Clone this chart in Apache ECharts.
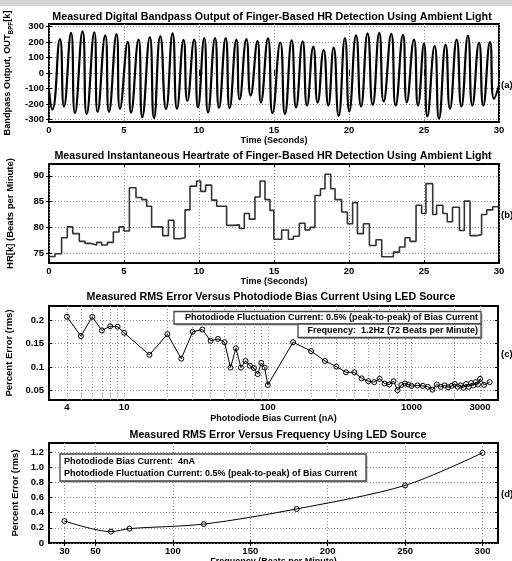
<!DOCTYPE html>
<html><head><meta charset="utf-8">
<script src="https://cdn.jsdelivr.net/npm/echarts@6/dist/echarts.min.js"></script>
<style>html,body{margin:0;padding:0;background:#fff}#c{width:512px;height:561px}</style>
</head><body><div id="c"></div>
<script>
// ---- (a) bandpass output: peaks/troughs ----
const aTimes = [0, 0.22, 0.73, 1.00, 1.47, 1.73, 2.24, 2.51, 3.02, 3.24, 3.75, 4.00, 4.50, 4.73, 5.25, 5.47, 5.97, 6.22, 6.72, 7.00,
  7.42, 7.80, 8.24, 8.53, 8.97, 9.22, 9.68, 9.93, 10.35, 10.60, 11.07, 11.33, 11.78, 12.04, 12.49, 12.71, 13.16, 13.44, 13.90, 14.13,
  14.60, 14.90, 15.42, 15.73, 16.18, 16.47, 16.91, 17.20, 17.62, 17.91, 18.31, 18.62, 18.98, 19.31, 19.73, 20.02, 20.47, 20.80, 21.24, 21.58,
  22.02, 22.31, 22.82, 23.11, 23.60, 23.85, 24.33, 24.60, 25.00, 25.22, 25.71, 26.00, 26.44, 26.73, 27.18, 27.49, 27.93, 28.22, 28.67, 28.95,
  29.40, 29.67, 30.00];
const aValues = [-110, -235, 218, -215, 258, -258, 267, -265, 262, -250, 242, -250, 250, -230, 200, -255, 215, -285, 230, -290,
  237, -232, 255, -230, 213, -180, 215, -220, 225, -255, 225, -225, 224, -226, 215, -170, 218, -145, 205, -190,
  222, -258, 196, -265, 210, -221, 204, -209, 170, -190, 148, -209, 163, -275, 225, -247, 242, -215, 255, -205,
  258, -183, 252, -209, 245, -188, 215, -209, 190, -279, 173, -294, 182, -230, 215, -215, 240, -209, 195, -209,
  198, -166, -80];
const aYTicks = [-300, -200, -100, 0, 100, 200, 300];

// ---- (b) instantaneous heart rate (step starts) ----
const hrTimes = [0, 0.4, 0.84, 1.22, 1.58, 2.02, 2.4, 2.78, 3.18, 3.51, 3.89, 4.29, 4.67, 5.0, 5.36, 5.8, 6.18, 6.51, 6.84, 7.58,
  7.96, 8.33, 8.73, 9.07, 9.4, 9.84, 10.11, 10.44, 10.84, 11.18, 11.84, 12.29, 12.69, 13.02, 13.36, 13.73, 14.07, 14.4, 14.73, 14.99,
  15.51, 15.96, 16.29, 16.69, 17.07, 17.4, 17.73, 18.1, 18.4, 18.78, 19.07, 19.51, 19.89, 20.24, 20.56, 20.96, 21.36, 21.8, 22.18, 22.96,
  23.36, 23.73, 24.07, 24.47, 24.84, 25.13, 25.58, 25.84, 26.26, 26.55, 26.9, 27.36, 27.69, 28.07, 28.47, 28.84, 29.18, 29.58, 30];
const hrValues = [74.35, 74.9, 78.0, 80.1, 78.8, 77.3, 76.9, 76.6, 77.1, 76.6, 77.1, 79.1, 80.1, 79.3, 87.7, 85.8, 85.4, 84.1, 80.1, 78.4,
  81.4, 77.8, 78.0, 83.4, 88.0, 89.0, 87.0, 88.2, 85.3, 84.1, 80.4, 80.5, 79.8, 82.7, 81.6, 85.9, 89.0, 85.4, 83.3, 77.7,
  79.5, 77.7, 78.3, 80.8, 79.5, 80.0, 86.2, 87.5, 90.3, 87.5, 85.4, 83.0, 80.7, 84.8, 78.8, 80.7, 76.5, 77.6, 74.3, 75.2,
  76.2, 78.0, 77.3, 84.3, 82.7, 88.5, 82.5, 84.3, 82.7, 81.1, 83.9, 79.4, 85.1, 78.4, 78.6, 82.5, 83.4, 84.0, 84.0];
const bYTicks = [75, 80, 85, 90];

// ---- (c) RMS error vs photodiode bias current ----
const cCurrent = [4, 5, 6, 7, 8, 9, 10, 15, 20, 25, 30, 35, 40, 45, 50, 55, 60, 65, 70, 75, 80, 85, 90, 95, 100,
  150, 200, 250, 300, 350, 400, 450, 500, 550, 600, 650, 700, 750, 800, 850, 900, 950, 1000,
  1100, 1200, 1300, 1400, 1500, 1600, 1700, 1800, 1900, 2000, 2100, 2200, 2300, 2400, 2500, 2600, 2700, 2800, 2900, 3000, 3200, 3500];
const cError = [0.207, 0.166, 0.207, 0.178, 0.187, 0.186, 0.173, 0.126, 0.170, 0.118, 0.175, 0.180, 0.156, 0.160, 0.153, 0.099, 0.140, 0.099, 0.113, 0.103, 0.098, 0.085, 0.109, 0.099, 0.062,
  0.153, 0.134, 0.113, 0.101, 0.089, 0.089, 0.076, 0.070, 0.068, 0.075, 0.065, 0.063, 0.070, 0.051, 0.062, 0.065, 0.063, 0.060,
  0.061, 0.060, 0.058, 0.052, 0.063, 0.058, 0.061, 0.057, 0.060, 0.064, 0.058, 0.061, 0.056, 0.064, 0.058, 0.066, 0.061, 0.068, 0.063, 0.075, 0.062, 0.068];
const cYTicks = [0.05, 0.1, 0.15, 0.2];
const cXLabels = [4, 10, 100, 1000, 3000];
const cXGrid = [4, 5, 6, 7, 8, 9, 10, 20, 30, 40, 50, 60, 70, 80, 90, 100, 200, 300, 400, 500, 600, 700, 800, 900, 1000, 2000, 3000];

// ---- (d) RMS error vs frequency ----
const dFreq = [30, 60, 72, 120, 180, 250, 300];
const dError = [0.29, 0.15, 0.19, 0.25, 0.45, 0.76, 1.19];
const dXTicks = [30, 50, 100, 150, 200, 250, 300];
const dYTicks = [0, 0.2, 0.4, 0.6, 0.8, 1.0, 1.2];

// ---- texts ----
const titles = [
  'Measured Digital Bandpass Output of Finger-Based HR Detection Using Ambient Light',
  'Measured Instantaneous Heartrate of Finger-Based HR Detection Using Ambient Light',
  'Measured RMS Error Versus Photodiode Bias Current Using LED Source',
  'Measured RMS Error Versus Frequency Using LED Source'
];
const panelTags = ['(a)', '(b)', '(c)', '(d)'];
const noteC = ['Photodiode Fluctuation Current: 0.5% (peak-to-peak) of Bias Current', 'Frequency:  1.2Hz (72 Beats per Minute)'];
const noteD = ['Photodiode Bias Current:  4nA', 'Photodiode Fluctuation Current: 0.5% (peak-to-peak) of Bias Current'];

const FONT = "'Liberation Sans', Arial, Helvetica, sans-serif";
const chart = echarts.init(document.getElementById('c'), null, {renderer: 'canvas'});

const dotted = {show: true, lineStyle: {color: '#8c8c8c', width: 1, type: [1, 2]}};
function tick(vals) { const t = {show: true, inside: true, length: 3, lineStyle: {color: '#000', width: 1}}; if (vals) t.customValues = vals; return t; }
function lbl(extra) { return Object.assign({color: '#000', fontFamily: FONT, fontWeight: 'bold', fontSize: 9.5}, extra || {}); }
const nameStyle = {color: '#000', fontFamily: FONT, fontWeight: 'bold', fontSize: 9};
function grid(top, height, width) { return {left: 49, top: top, width: width, height: height, show: true, borderColor: '#000', borderWidth: 2, backgroundColor: 'transparent', containLabel: false, outerBoundsMode: 'none'}; }
// mirrored tick-only axes (top / right), as in the original figure
function mirrorX(gi, min, max, vals, interval) {
  const a = {gridIndex: gi, type: 'value', position: 'top', min: min, max: max, axisLine: {show: false},
    axisTick: tick(vals), axisLabel: {show: false}, splitLine: {show: false}};
  if (interval) a.interval = interval;
  return a;
}
function mirrorY(gi, min, max, vals) {
  return {gridIndex: gi, type: 'value', position: 'right', min: min, max: max, axisLine: {show: false},
    axisTick: tick(vals), axisLabel: {show: false}, splitLine: {show: false}};
}

const zip = (xs, ys) => xs.map((x, i) => [x, ys[i]]);

const titleY = [17, 156, 297, 435];
const titleX = [272, 273, 271, 278];
const tagY = [85, 215, 354, 494];
const graphic = [{type: 'rect', shape: {x: 0, y: 0, width: 512, height: 6}, style: {fill: '#d6d6d6'}, z: 100}];
titles.forEach((t, i) => graphic.push({type: 'text', x: titleX[i], y: titleY[i], z: 100,
  style: {text: t, font: 'bold 10.7px ' + FONT, fill: '#000', align: 'center', verticalAlign: 'middle'}}));
panelTags.forEach((t, i) => graphic.push({type: 'text', x: 501, y: tagY[i], z: 100,
  style: {text: t, font: 'bold 9.5px ' + FONT, fill: '#000', align: 'left', verticalAlign: 'middle'}}));
// note boxes (c)
graphic.push({type: 'rect', shape: {x: 175.5, y: 313, width: 307, height: 12.5}, style: {fill: '#aaa'}, z: 99});
graphic.push({type: 'rect', shape: {x: 174, y: 311.5, width: 307, height: 12.5}, style: {fill: '#fff', stroke: '#444', lineWidth: 1.3}, z: 100});
graphic.push({type: 'rect', shape: {x: 299.5, y: 325.5, width: 183, height: 13.5}, style: {fill: '#aaa'}, z: 99});
graphic.push({type: 'rect', shape: {x: 298, y: 324, width: 183, height: 13.5}, style: {fill: '#fff', stroke: '#444', lineWidth: 1.3}, z: 100});
graphic.push({type: 'text', x: 478, y: 318, z: 101, style: {text: noteC[0], font: 'bold 9px ' + FONT, fill: '#000', align: 'right', verticalAlign: 'middle'}});
graphic.push({type: 'text', x: 478, y: 330.5, z: 101, style: {text: noteC[1], font: 'bold 9px ' + FONT, fill: '#000', align: 'right', verticalAlign: 'middle'}});
// note box (d)
graphic.push({type: 'rect', shape: {x: 61.5, y: 455.5, width: 306, height: 27}, style: {fill: '#aaa'}, z: 99});
graphic.push({type: 'rect', shape: {x: 60, y: 454, width: 306, height: 27}, style: {fill: '#fff', stroke: '#444', lineWidth: 1.3}, z: 100});
graphic.push({type: 'text', x: 64, y: 462, z: 101, style: {text: noteD[0], font: 'bold 9px ' + FONT, fill: '#000', align: 'left', verticalAlign: 'middle'}});
graphic.push({type: 'text', x: 64, y: 473.5, z: 101, style: {text: noteD[1], font: 'bold 9px ' + FONT, fill: '#000', align: 'left', verticalAlign: 'middle'}});

const markerStyle = {color: 'rgba(255,255,255,0)', borderColor: '#000', borderWidth: 1};

const option = {
  animation: false,
  backgroundColor: '#fff',
  grid: [grid(24, 98, 450), grid(164, 99, 450), grid(306, 94, 449), grid(443, 100, 449)],
  xAxis: [
    {gridIndex: 0, type: 'value', min: 0, max: 30, interval: 5, axisLine: {show: false}, axisTick: tick(), splitLine: dotted,
      axisLabel: lbl({margin: 3}), name: 'Time (Seconds)', nameLocation: 'middle', nameGap: 14, nameTextStyle: nameStyle},
    {gridIndex: 1, type: 'value', min: 0, max: 30, interval: 5, axisLine: {show: false}, axisTick: tick(), splitLine: dotted,
      axisLabel: lbl({margin: 3}), name: 'Time (Seconds)', nameLocation: 'middle', nameGap: 13, nameTextStyle: nameStyle},
    {gridIndex: 2, type: 'log', logBase: 10, min: 3, max: 4000, axisLine: {show: false}, axisTick: {show: false}, splitLine: {show: false},
      axisLabel: {show: false}, name: 'Photodiode Bias Current (nA)', nameLocation: 'middle', nameGap: 14, nameTextStyle: nameStyle},
    {gridIndex: 3, type: 'value', min: 20, max: 310, axisLine: {show: false}, axisTick: tick(dXTicks), splitLine: dotted,
      axisLabel: lbl({margin: 3, customValues: dXTicks}), name: 'Frequency (Beats per Minute)', nameLocation: 'middle', nameGap: 12, nameTextStyle: nameStyle},
    mirrorX(0, 0, 30, null, 5),
    mirrorX(1, 0, 30, null, 5),
    mirrorX(3, 20, 310, dXTicks)
  ],
  yAxis: [
    {gridIndex: 0, type: 'value', min: -315, max: 315, axisLine: {show: false}, axisTick: tick(aYTicks), splitLine: dotted,
      axisLabel: lbl({margin: 5, customValues: aYTicks}),
      name: '{n|Bandpass Output, OUT}{s|BPF}{n|[k]}', nameLocation: 'middle', nameGap: 32, nameRotate: 90,
      nameTextStyle: Object.assign({}, nameStyle, {fontSize: 9.2, rich: {
        n: {fontFamily: FONT, fontWeight: 'bold', fontSize: 9.2, color: '#000', lineHeight: 13},
        s: {fontFamily: FONT, fontWeight: 'bold', fontSize: 6.3, color: '#000', verticalAlign: 'bottom', lineHeight: 13}}})},
    {gridIndex: 1, type: 'value', min: 73.1, max: 92.3, axisLine: {show: false}, axisTick: tick(bYTicks), splitLine: dotted,
      axisLabel: lbl({margin: 5, customValues: bYTicks}), name: 'HR[k] (Beats per Minute)', nameLocation: 'middle', nameGap: 34, nameRotate: 90,
      nameTextStyle: Object.assign({}, nameStyle, {fontSize: 9.5})},
    {gridIndex: 2, type: 'value', min: 0.03, max: 0.23, axisLine: {show: false}, axisTick: tick(cYTicks), splitLine: dotted,
      axisLabel: lbl({margin: 5, customValues: cYTicks}), name: 'Percent Error (rms)', nameLocation: 'middle', nameGap: 24, nameRotate: 90,
      nameTextStyle: Object.assign({}, nameStyle, {fontSize: 9.5})},
    {gridIndex: 3, type: 'value', min: 0, max: 1.32, axisLine: {show: false}, axisTick: tick(dYTicks), splitLine: dotted,
      axisLabel: lbl({margin: 5, customValues: dYTicks, formatter: v => (v === 0 ? '0' : v.toFixed(1))}),
      name: 'Percent Error (rms)', nameLocation: 'middle', nameGap: 24, nameRotate: 90,
      nameTextStyle: Object.assign({}, nameStyle, {fontSize: 9.5})},
    mirrorY(0, -315, 315, aYTicks),
    mirrorY(1, 73.1, 92.3, bYTicks),
    mirrorY(2, 0.03, 0.23, cYTicks),
    mirrorY(3, 0, 1.32, dYTicks)
  ],
  series: [
    {type: 'line', xAxisIndex: 0, yAxisIndex: 0, data: zip(aTimes, aValues), smooth: 0.55, symbol: 'none',
      lineStyle: {color: '#000', width: 2.2}, silent: true},
    {type: 'line', xAxisIndex: 1, yAxisIndex: 1, data: zip(hrTimes, hrValues), step: 'end', symbol: 'none',
      lineStyle: {color: '#333', width: 1.6}, silent: true},
    {type: 'line', xAxisIndex: 2, yAxisIndex: 2, data: zip(cCurrent, cError), symbol: 'circle', symbolSize: 5,
      itemStyle: markerStyle, lineStyle: {color: '#000', width: 1}, silent: true,
      markLine: {z: 1, silent: true, symbol: ['none', 'none'], animation: false,
        lineStyle: {color: '#8c8c8c', width: 1, type: [1, 2]}, emphasis: {disabled: true},
        label: {show: false},
        data: cXGrid.map(v => ({xAxis: v, label: cXLabels.indexOf(v) >= 0 ?
          {show: true, position: 'start', formatter: String(v), color: '#000', fontFamily: FONT, fontWeight: 'bold', fontSize: 9.5, distance: 2} :
          {show: false}}))}},
    {type: 'line', xAxisIndex: 3, yAxisIndex: 3, data: zip(dFreq, dError), smooth: 0.3, symbol: 'circle', symbolSize: 5,
      itemStyle: markerStyle, lineStyle: {color: '#000', width: 1}, silent: true}
  ],
  graphic: graphic
};
chart.setOption(option);
</script></body></html>
